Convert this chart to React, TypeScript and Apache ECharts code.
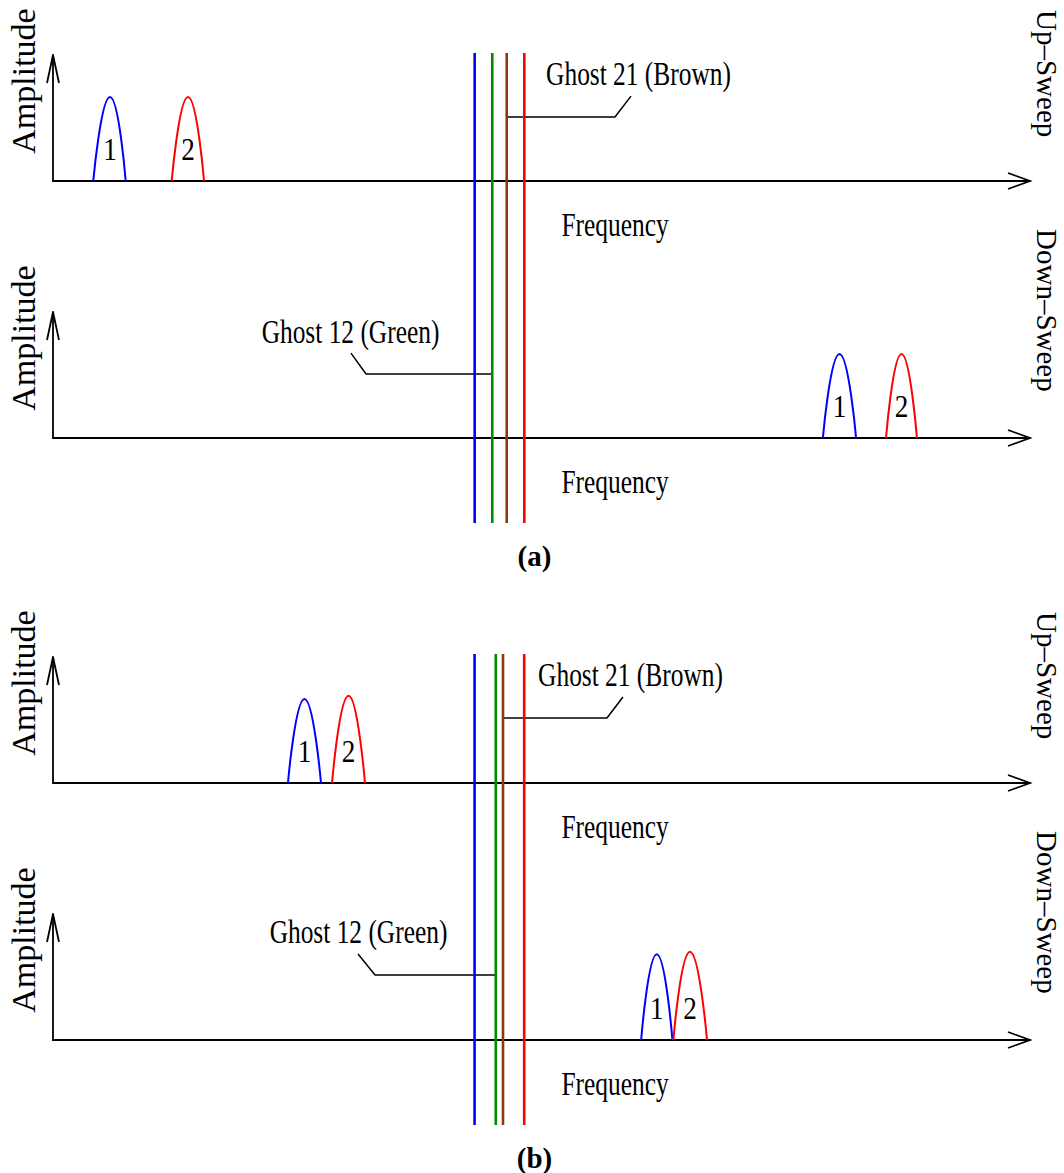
import { useEffect, useRef } from "react";
import * as echarts from "echarts";

// Frequency / amplitude domains shared by all four spectrum panels
const FREQ_MAX = 1000;
const AMP_MAX = 1.5;

// Panels in drawing order: (a) up-sweep, (a) down-sweep, (b) up-sweep, (b) down-sweep
const panelIsUp = [true, false, true, false];

// Beat-frequency pulse 1 (blue): left foot, peak, right foot, peak amplitude
const pulse1Left = [41.2, 788, 240.5, 602];
const pulse1Peak = [58.3, 805, 257.4, 618];
const pulse1Right = [74.4, 822, 274.3, 634];
const pulse1Amp = [1.0, 1.0, 1.0, 1.02];

// Beat-frequency pulse 2 (red)
const pulse2Left = [121.5, 852.6, 285.6, 635];
const pulse2Peak = [138.2, 868.5, 302.5, 652];
const pulse2Right = [154.6, 884.3, 319.3, 669.4];
const pulse2Amp = [1.0, 1.0, 1.04, 1.05];

const pulseIds = ["1", "2"];
const pulseColors = ["#0000ff", "#ff0000"];
const pulseLabelAmp = 0.38;

// Vertical frequency markers: blue, green (ghost 12), brown (ghost 21), red
const markerColors = ["#0000ff", "#008c00", "#8b3a0f", "#ff0000"];
const markerFreqA = [431.6, 449.6, 464.4, 482.4];
const markerFreqB = [431.5, 453.2, 460.6, 482.3];

// Leader lines from the ghost markers to their captions
const leaderAmp = [0.762, 0.762, 0.774, 0.774];
const leaderElbow = [575.2, 320.4, 567, 329.6];
const leaderTipFreq = [591.6, 305, 583.4, 312.2];
const leaderTipAmp = [1.01, 1.01, 1.024, 1.024];
const ghostCaptions = ["Ghost 21 (Brown)", "Ghost 12 (Green)", "Ghost 21 (Brown)", "Ghost 12 (Green)"];

// Layout
const GRID_LEFT = 53;
const GRID_WIDTH = 977;
const PANEL_H = 126;
const panelTop = [55, 312, 657, 914];
const markerTop = [53, 654];
const markerBottom = [523, 1125];
const captionPos = [
  [638.5, 73.5],
  [350.5, 331.5],
  [630.5, 675],
  [358.5, 932],
];
const figureLabels = ["(a)", "(b)"];
const figureLabelY = [556, 1158];

const FONT = "'Liberation Serif', 'Times New Roman', serif";
const COND = 0.77;

export default function App() {
  const ref = useRef<HTMLDivElement>(null);

  useEffect(() => {
    if (!ref.current) return;
    const chart = echarts.init(ref.current, undefined, { renderer: "svg" });

    const grids: any[] = [];
    const xAxes: any[] = [];
    const yAxes: any[] = [];
    const series: any[] = [];
    const graphic: any[] = [];

    const axisLine = { show: true, lineStyle: { color: "#000", width: 1.8 } };

    // four spectrum panels
    panelTop.forEach((top, p) => {
      grids.push({ left: GRID_LEFT, top, width: GRID_WIDTH, height: PANEL_H });
      xAxes.push({
        gridIndex: p,
        type: "value",
        min: 0,
        max: FREQ_MAX,
        axisLine,
        axisTick: { show: false },
        axisLabel: { show: false },
        splitLine: { show: false },
      });
      yAxes.push({
        gridIndex: p,
        type: "value",
        min: 0,
        max: AMP_MAX,
        axisLine,
        axisTick: { show: false },
        axisLabel: { show: false },
        splitLine: { show: false },
      });

      const pulses = [
        [[pulse1Left[p], 0], [pulse1Peak[p], pulse1Amp[p]], [pulse1Right[p], 0]],
        [[pulse2Left[p], 0], [pulse2Peak[p], pulse2Amp[p]], [pulse2Right[p], 0]],
      ];
      pulses.forEach((data, k) => {
        series.push({
          type: "line",
          xAxisIndex: p,
          yAxisIndex: p,
          data,
          smooth: 0.55,
          showSymbol: false,
          symbol: "none",
          lineStyle: { color: pulseColors[k], width: 2 },
          z: 3,
        });
      });

      // leader from ghost marker (brown in up-sweep, green in down-sweep)
      const markers = p < 2 ? markerFreqA : markerFreqB;
      const startFreq = panelIsUp[p] ? markers[2] : markers[1];
      series.push({
        type: "line",
        xAxisIndex: p,
        yAxisIndex: p,
        data: [
          [startFreq, leaderAmp[p]],
          [leaderElbow[p], leaderAmp[p]],
          [leaderTipFreq[p], leaderTipAmp[p]],
        ],
        showSymbol: false,
        symbol: "none",
        lineStyle: { color: "#000", width: 1.5 },
        z: 3,
      });

      const axisY = top + PANEL_H;
      const xEnd = GRID_LEFT + GRID_WIDTH;
      graphic.push({
        type: "polyline",
        shape: { points: [[xEnd - 22, axisY - 8], [xEnd, axisY], [xEnd - 22, axisY + 8]] },
        style: { stroke: "#000", lineWidth: 1.8, fill: null },
      });
      graphic.push({
        type: "polyline",
        shape: { points: [[GRID_LEFT - 6, top + 28], [GRID_LEFT, top], [GRID_LEFT + 6, top + 28]] },
        style: { stroke: "#000", lineWidth: 1.8, fill: null },
      });

      graphic.push({
        type: "text",
        x: 23,
        y: axisY - 100,
        rotation: Math.PI / 2,
        style: {
          text: "Amplitude",
          font: `34px ${FONT}`,
          fill: "#000",
          align: "center",
          verticalAlign: "middle",
        },
      });
      graphic.push({
        type: "text",
        x: 615,
        y: axisY + 44,
        scaleX: COND,
        style: {
          text: "Frequency",
          font: `33px ${FONT}`,
          fill: "#000",
          align: "center",
          verticalAlign: "middle",
        },
      });
      graphic.push({
        type: "text",
        x: 1047,
        y: axisY - (panelIsUp[p] ? 171 : 209),
        rotation: -Math.PI / 2,
        style: {
          text: panelIsUp[p] ? "Up–Sweep" : "Down–Sweep",
          font: `29px ${FONT}`,
          fill: "#000",
          align: "left",
          verticalAlign: "middle",
        },
      });
      graphic.push({
        type: "text",
        x: captionPos[p][0],
        y: captionPos[p][1],
        scaleX: COND,
        style: {
          text: ghostCaptions[p],
          font: `33px ${FONT}`,
          fill: "#000",
          align: "center",
          verticalAlign: "middle",
        },
      });
    });

    // tall overlay grids carrying the vertical frequency markers of each figure
    [markerFreqA, markerFreqB].forEach((freqs, f) => {
      const gi = 4 + f;
      grids.push({
        left: GRID_LEFT,
        top: markerTop[f],
        width: GRID_WIDTH,
        height: markerBottom[f] - markerTop[f],
      });
      xAxes.push({ gridIndex: gi, type: "value", min: 0, max: FREQ_MAX, show: false });
      yAxes.push({ gridIndex: gi, type: "value", min: 0, max: 1, show: false });
      freqs.forEach((v, i) => {
        series.push({
          type: "line",
          xAxisIndex: gi,
          yAxisIndex: gi,
          data: [[v, 0], [v, 1]],
          showSymbol: false,
          symbol: "none",
          lineStyle: { color: markerColors[i], width: 2.6 },
          z: 6,
        });
      });
      graphic.push({
        type: "text",
        x: 534.5,
        y: figureLabelY[f],
        style: {
          text: figureLabels[f],
          font: `bold 29px ${FONT}`,
          fill: "#000",
          align: "center",
          verticalAlign: "middle",
        },
      });
    });

    chart.setOption({
      animation: false,
      backgroundColor: "#fff",
      grid: grids,
      xAxis: xAxes,
      yAxis: yAxes,
      series,
      graphic,
    });

    // pulse numbers, placed inside each pulse through the panel's own scales
    const numberTexts: any[] = [];
    panelTop.forEach((_, p) => {
      const peaks = [pulse1Peak[p], pulse2Peak[p]];
      peaks.forEach((freq, k) => {
        const pt = chart.convertToPixel({ gridIndex: p }, [freq, pulseLabelAmp]) as number[];
        numberTexts.push({
          type: "text",
          x: pt[0],
          y: pt[1],
          scaleX: 0.85,
          z: 5,
          style: {
            text: pulseIds[k],
            font: `32px ${FONT}`,
            fill: "#000",
            align: "center",
            verticalAlign: "middle",
          },
        });
      });
    });
    chart.setOption({ graphic: [...graphic, ...numberTexts] });

    return () => chart.dispose();
  }, []);

  return (
    <div
      ref={ref}
      style={{ position: "absolute", left: 0, top: 0, width: 1064, height: 1173 }}
    />
  );
}
